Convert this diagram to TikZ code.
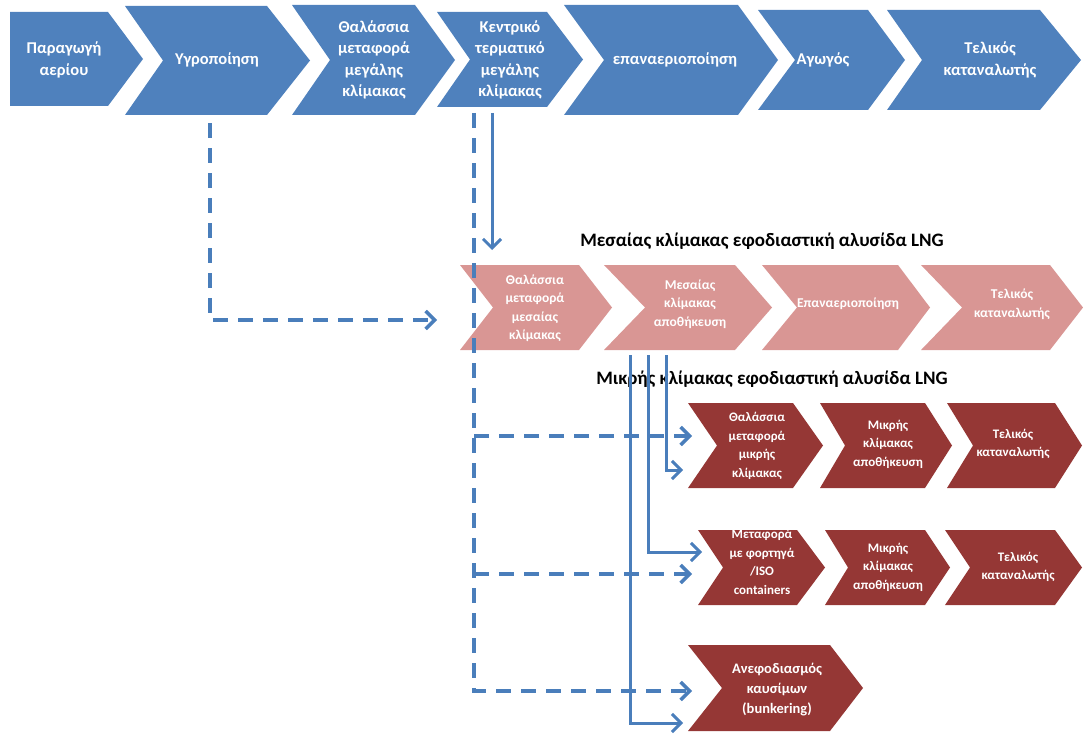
\documentclass[tikz,border=0pt]{standalone}
\usepackage{fontspec}
\setmainfont{Carlito}
\usetikzlibrary{arrows.meta}
\definecolor{topblue}{HTML}{4F81BD}
\definecolor{midpink}{HTML}{D99694}
\definecolor{smallred}{HTML}{953735}
\definecolor{linkblue}{HTML}{4A7EBB}
% #1 colour, #2 left x, #3 notch x, #4 right x, #5 tip x, #6 top y, #7 bottom y
\newcommand\chevshape[7]{\fill[#1] (#2,#6) -- (#4,#6) -- (#5,{(#6+#7)/2}) -- (#4,#7) -- (#2,#7) -- (#3,{(#6+#7)/2}) -- cycle;}
\tikzset{
  toptxt/.style={text=white, font=\bfseries\fontsize{16.5}{21.5}\selectfont, align=center, inner sep=0pt},
  midtxt/.style={text=white, font=\bfseries\fontsize{13.5}{18.5}\selectfont, align=center, inner sep=0pt},
  smalltxt/.style={text=white, font=\bfseries\fontsize{13}{18.5}\selectfont, align=center, inner sep=0pt},
  bunktxt/.style={text=white, font=\bfseries\fontsize{14.5}{20}\selectfont, align=center, inner sep=0pt},
  titletxt/.style={text=black, font=\bfseries\fontsize{19}{22}\selectfont, inner sep=0pt},
  dashlink/.style={draw=linkblue, line width=3.4pt, dash pattern=on 15pt off 10pt},
  solidlink/.style={draw=linkblue, line width=3pt},
  tip/.style={-{Straight Barb[length=9pt,width=18pt]}}
}
\begin{document}
\begin{tikzpicture}[x=1pt,y=-1pt]
\useasboundingbox (0,0) rectangle (1083,733);
% ---- top row
\chevshape{topblue}{10}{10}{108}{143}{12}{106}
\chevshape{topblue}{125}{163}{267}{310}{6}{115}
\chevshape{topblue}{292}{330}{415}{455}{5}{115}
\chevshape{topblue}{437}{470}{547}{583}{12}{107}
\chevshape{topblue}{564}{604}{738}{778}{5}{115}
\chevshape{topblue}{758}{795}{868}{905}{10}{110}
\chevshape{topblue}{887}{922}{1040}{1081}{10}{110}
\node[toptxt] (t1) at (64,60) {Παραγωγή\\αερίου};
\node[toptxt] (t2) at (217,60) {Υγροποίηση};
\node[toptxt] (t3) at (374,60) {Θαλάσσια\\μεταφορά\\μεγάλης\\κλίμακας};
\node[toptxt] (t4) at (510,60) {Κεντρικό\\τερματικό\\μεγάλης\\κλίμακας};
\node[toptxt] (t5) at (675,60) {επαναεριοποίηση};
\node[toptxt] (t6) at (823,60) {Αγωγός};
\node[toptxt] (t7) at (990,60) {Τελικός\\καταναλωτής};
% ---- medium scale
\node[titletxt] (title1) at (762,241) {Μεσαίας κλίμακας εφοδιαστική αλυσίδα LNG};
\chevshape{midpink}{460}{493}{579}{612}{265}{350}
\chevshape{midpink}{604}{645}{735}{772}{265}{350}
\chevshape{midpink}{762}{797}{898}{930}{265}{350}
\chevshape{midpink}{921}{962}{1050}{1083}{265}{350}
\node[midtxt] (m1) at (535,308) {Θαλάσσια\\μεταφορά\\μεσαίας\\κλίμακας};
\node[midtxt] (m2) at (690,304) {Μεσαίας\\κλίμακας\\αποθήκευση};
\node[midtxt] (m3) at (848,304) {Επαναεριοποίηση};
\node[midtxt] (m4) at (1012,304) {Τελικός\\καταναλωτής};
% ---- small scale
\node[titletxt] (title2) at (772,379) {Μικρής κλίμακας εφοδιαστική αλυσίδα LNG};
\chevshape{smallred}{688}{717}{793}{823}{403}{488}
\chevshape{smallred}{820}{845}{925}{952}{403}{488}
\chevshape{smallred}{947}{973}{1055}{1082}{403}{488}
\node[smalltxt] (s1a) at (757,446) {Θαλάσσια\\μεταφορά\\μικρής\\κλίμακας};
\node[smalltxt] (s1b) at (888,444) {Μικρής\\κλίμακας\\αποθήκευση};
\node[smalltxt] (s1c) at (1013,444) {Τελικός\\καταναλωτής};
\chevshape{smallred}{698}{723}{797}{825}{530}{605}
\chevshape{smallred}{825}{848}{925}{950}{530}{605}
\chevshape{smallred}{945}{970}{1055}{1082}{530}{605}
\node[smalltxt] (s2a) at (762,562) {Μεταφορά\\με φορτηγά\\/ISO\\containers};
\node[smalltxt] (s2b) at (888,567) {Μικρής\\κλίμακας\\αποθήκευση};
\node[smalltxt] (s2c) at (1018,567) {Τελικός\\καταναλωτής};
\chevshape{smallred}{688}{722}{830}{863}{645}{731}
\node[bunktxt] (s3) at (777,690) {Ανεφοδιασμός\\καυσίμων\\(bunkering)};
% ---- connector end points
\coordinate (d1s) at (210,123);
\coordinate (d1e) at (437,320);
\coordinate (d2s) at (474,113);
\coordinate (d2b1) at (474,436);
\coordinate (d2e1) at (692,436);
\coordinate (d2b2) at (474,574);
\coordinate (d2e2) at (692,574);
\coordinate (d2e3) at (692,691);
\coordinate (a1s) at (492,113);
\coordinate (a1e) at (492,250);
\coordinate (a2s) at (666,355);
\coordinate (a2e) at (683,470);
\coordinate (a3s) at (648,355);
\coordinate (a3e) at (702,552);
\coordinate (a4s) at (630,355);
\coordinate (a4e) at (683,723);
% ---- connectors
\draw[dashlink, tip] (d1s) |- (d1e);
\draw[dashlink, tip] (d2s) |- (d2e3);
\draw[dashlink, tip] (d2b1) -- (d2e1);
\draw[dashlink, tip] (d2b2) -- (d2e2);
\draw[solidlink, tip] (a1s) -- (a1e);
\draw[solidlink, tip] (a2s) |- (a2e);
\draw[solidlink, tip] (a3s) |- (a3e);
\draw[solidlink, tip] (a4s) |- (a4e);
\end{tikzpicture}
\end{document}
